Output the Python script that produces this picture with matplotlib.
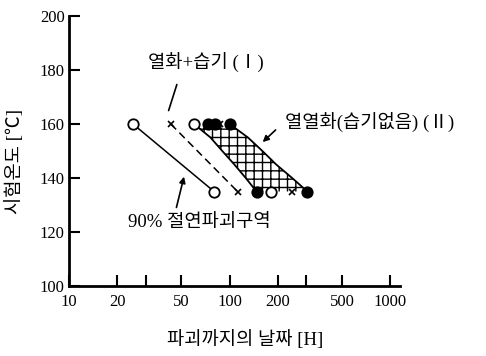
import numpy as np
import matplotlib
matplotlib.use("Agg")
import matplotlib.pyplot as plt

plt.rcParams['font.family'] = ['Liberation Serif', 'Noto Sans CJK KR']
plt.rcParams['hatch.linewidth'] = 1.0

# test temperatures [C]
temps = [160, 135]

# 90% breakdown line (open circles) and moisture + heat ageing (I, crosses)
breakdown_hours = [25, 80]
moist_hours = [43, 112]

# heat ageing without moisture (II): band boundaries
band_temps = [160, 155, 150, 145, 140, 135]
band_left = [60, 76, 90, 107, 126, 147]
band_right = [100, 130, 160, 195, 245, 305]

# individual specimens inside band II
band_open_t = [160, 135]
band_open_h = [60, 182]
band_fill_t = [160, 160, 160, 135, 135]
band_fill_h = [73, 81, 100, 147, 305]
band_cross_t = [160, 135]
band_cross_h = [87, 243]

xticks = [10, 20, 30, 50, 100, 200, 300, 500, 1000]
xtick_labels = ['10', '20', '', '50', '100', '200', '', '500', '1000']
yticks = [100, 120, 140, 160, 180, 200]


def main():
    fig = plt.figure(figsize=(4.86, 3.56), dpi=100, facecolor='w')
    ax = fig.add_axes([69 / 486, 1 - 286 / 356, 331 / 486, 270 / 356])

    ax.set_xscale('log')
    ax.set_xlim(10, 1150)
    ax.set_ylim(100, 200)

    for side in ['top', 'right']:
        ax.spines[side].set_visible(False)
    for side in ['left', 'bottom']:
        ax.spines[side].set_linewidth(2.0)

    ax.set_xticks(xticks)
    ax.set_xticklabels(xtick_labels)
    ax.xaxis.set_minor_locator(matplotlib.ticker.NullLocator())
    ax.set_yticks(yticks)
    ax.tick_params(direction='in', length=8, width=1.5, labelsize=12)
    ax.tick_params(axis='x', pad=6)
    ax.tick_params(axis='y', pad=3)

    # hatched band (II)
    ax.fill_betweenx(band_temps, band_left, band_right, facecolor='white',
                     hatch='++', edgecolor='black', linewidth=0, zorder=1)
    ax.plot(band_left, band_temps, color='black', lw=1.3, zorder=2)
    ax.plot(band_right, band_temps, color='black', lw=1.3, zorder=2)

    # 90% breakdown line and heat + moisture line (I)
    ax.plot(breakdown_hours, temps, color='black', lw=1.1, zorder=2)
    ax.plot(moist_hours, temps, color='black', lw=1.1, ls=(0, (5, 3)), zorder=2)

    circle = dict(ms=7.5, mew=1.3, mec='black', ls='none', zorder=3)
    ax.plot(breakdown_hours, temps, 'o', mfc='white', **circle)
    ax.plot(band_open_h, band_open_t, 'o', mfc='white', **circle)
    ax.plot(band_fill_h, band_fill_t, 'o', mfc='black', **circle)
    ax.plot(moist_hours, temps, 'x', color='black', ms=4.5, mew=1.2, ls='none', zorder=3)
    ax.plot(band_cross_h, band_cross_t, 'x', color='black', ms=4.5, mew=1.2, ls='none', zorder=3)

    # annotations
    fs = 13.5
    ax.annotate('', xy=(41.2, 164), xytext=(47.5, 175.6),
                arrowprops=dict(arrowstyle='-', lw=1.2, color='black'))
    ax.text(30.9, 182.6, '열화+습기 (Ⅰ)', fontsize=fs, va='center', ha='left')

    ax.annotate('', xy=(156, 152.6), xytext=(199, 158.5),
                arrowprops=dict(arrowstyle='-|>', lw=1.2, color='black', mutation_scale=9))
    ax.text(220, 160.4, '열열화(습기없음) (Ⅱ)', fontsize=fs, va='center', ha='left',
            clip_on=False)

    ax.annotate('', xy=(52.5, 141.5), xytext=(46.2, 128.1),
                arrowprops=dict(arrowstyle='-|>', lw=1.2, color='black', mutation_scale=9))
    ax.text(23.2, 123.7, '90% 절연파괴구역', fontsize=fs, va='center', ha='left')

    fig.text(245 / 486, 1 - 340 / 356, '파괴까지의 날짜 [H]', fontsize=fs,
             ha='center', va='center')
    fig.text(15 / 486, 1 - 162 / 356, '시험온도 [℃]', fontsize=fs,
             ha='center', va='center', rotation=90)

    fig.savefig('out.png', dpi=100)


if __name__ == "__main__":
    main()
